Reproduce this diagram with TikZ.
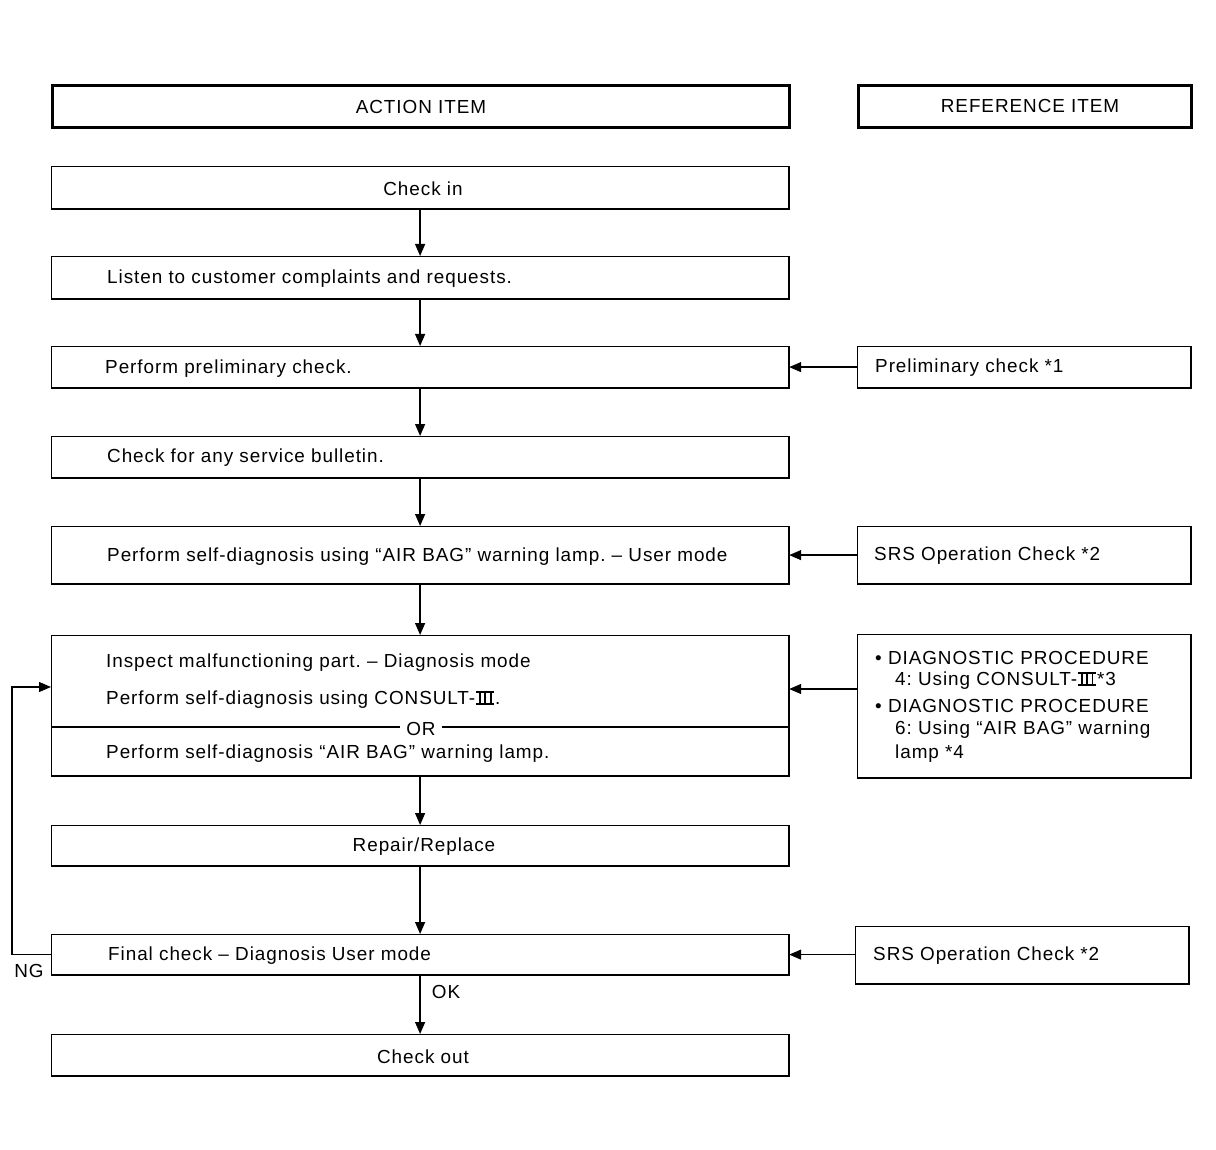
\documentclass[tikz,border=0pt]{standalone}
\usepackage{fontspec}
\setmainfont{Liberation Sans}[LetterSpace=5.0]
\usetikzlibrary{arrows.meta}
\frenchspacing
\newcommand{\rIII}{\leavevmode\kern0.05em\rlap{\rule{0.95em}{0.085em}}\rlap{\rule[0.636em]{0.95em}{0.085em}}\hbox to 0.95em{\hskip0.14em\rule{0.1em}{0.716em}\hfil\rule{0.1em}{0.716em}\hfil\rule{0.1em}{0.716em}\hskip0.14em}\kern0.05em}
\begin{document}
\begin{tikzpicture}[x=1pt,y=-1pt,
  box/.style={draw, line width=1.2pt, inner sep=0pt, anchor=north west},
  hbox/.style={draw, line width=3pt, inner sep=0pt, anchor=north west},
  txt/.style={font=\fontsize{18.9}{22}\selectfont, inner sep=0pt, anchor=west, yshift=-2pt},
  ctxt/.style={font=\fontsize{18.9}{22}\selectfont, inner sep=0pt, anchor=center, yshift=-1.5pt},
  arr/.style={line width=1.3pt, -{Triangle[length=12pt,width=10pt]}}]
\useasboundingbox (0,0) rectangle (1216,1150);
% header boxes
\node[hbox, minimum width=737pt, minimum height=42pt] (ha) at (51,84) {};
\node[hbox, minimum width=333pt, minimum height=42pt] (hr) at (857,84) {};
\node[ctxt] (tha) at (421,105) {ACTION ITEM};
\node[ctxt] (thr) at (1030,104) {REFERENCE ITEM};
% action boxes
\node[box, minimum width=737pt, minimum height=42pt] (ci) at (51,166) {};
\node[box, minimum width=737pt, minimum height=42pt] (li) at (51,256) {};
\node[box, minimum width=737pt, minimum height=41pt] (pp) at (51,346) {};
\node[box, minimum width=737pt, minimum height=41pt] (sb) at (51,436) {};
\node[box, minimum width=737pt, minimum height=57pt] (sd) at (51,526) {};
\node[box, minimum width=737pt, minimum height=140pt] (in) at (51,635) {};
\node[box, minimum width=737pt, minimum height=40pt] (rr) at (51,825) {};
\node[box, minimum width=737pt, minimum height=40pt] (fc) at (51,934) {};
\node[box, minimum width=737pt, minimum height=41pt] (co) at (51,1034) {};
% reference boxes
\node[box, minimum width=333pt, minimum height=41pt] (rp) at (857,346) {};
\node[box, minimum width=333pt, minimum height=57pt] (rs) at (857,526) {};
\node[box, minimum width=333pt, minimum height=143pt] (rd) at (857,634) {};
\node[box, minimum width=333pt, minimum height=57pt] (rf) at (855,926) {};
\foreach \n in {ci,li,pp,sb,sd,in,rr,fc,co,rp,rs,rd,rf}
  \draw[line width=2.4pt] (\n.south west) -- (\n.south east) -- (\n.north east);
% texts
\node[ctxt] (t1) at (423,187) {Check in};
\node[txt] (t2) at (107,277) {Listen to customer complaints and requests.};
\node[txt] (t3) at (105,367) {Perform preliminary check.};
\node[txt] (t4) at (107,456) {Check for any service bulletin.};
\node[txt] (t5) at (107,555) {Perform self-diagnosis using “AIR BAG” warning lamp. – User mode};
\node[txt] (t6) at (106,661) {Inspect malfunctioning part. – Diagnosis mode};
\node[txt] (t7) at (106,698) {Perform self-diagnosis using CONSULT-\rIII.};
\coordinate (orl) at (0,727);
\draw[line width=2pt] (in.west |- orl) -- (in.east |- orl);
\node[ctxt, fill=white, inner xsep=6pt] (tor) at (421,727) {OR};
\node[txt] (t8) at (106,752) {Perform self-diagnosis “AIR BAG” warning lamp.};
\node[ctxt] (t9) at (424,845) {Repair/Replace};
\node[txt] (t10) at (108,954) {Final check – Diagnosis User mode};
\node[ctxt] (t11) at (423,1055) {Check out};
\node[txt] (r1) at (875,366) {Preliminary check *1};
\node[txt] (r2) at (874,554) {SRS Operation Check *2};
\node[txt] (r3) at (875,656) {• DIAGNOSTIC PROCEDURE};
\node[txt] (r4) at (895,679) {4: Using CONSULT-\rIII*3};
\node[txt] (r5) at (875,704) {• DIAGNOSTIC PROCEDURE};
\node[txt] (r6) at (895,728) {6: Using “AIR BAG” warning};
\node[txt] (r7) at (895,752) {lamp *4};
\node[txt] (r8) at (873,954) {SRS Operation Check *2};
\node[ctxt] (tng) at (29,969) {NG};
\node[ctxt] (tok) at (446,990) {OK};
% vertical arrows
\draw[arr] (ci.south) -- (li.north);
\draw[arr] (li.south) -- (pp.north);
\draw[arr] (pp.south) -- (sb.north);
\draw[arr] (sb.south) -- (sd.north);
\draw[arr] (sd.south) -- (in.north);
\draw[arr] (in.south) -- (rr.north);
\draw[arr] (rr.south) -- (fc.north);
\draw[arr] (fc.south) -- (co.north);
% horizontal arrows
\draw[arr] (rp.west) -- (pp.east);
\draw[arr] (rs.west) -- (sd.east);
\coordinate (dy) at (0,689);
\draw[arr] (rd.west |- dy) -- (in.east |- dy);
\draw[arr] (rf.west |- fc.east) -- (fc.east);
% NG loop
\coordinate (ngx) at (12,0);
\coordinate (ngy) at (0,687);
\draw[arr] (fc.west) -- (ngx |- fc.west) -- (ngx |- ngy) -- (in.west |- ngy);
\end{tikzpicture}
\end{document}
